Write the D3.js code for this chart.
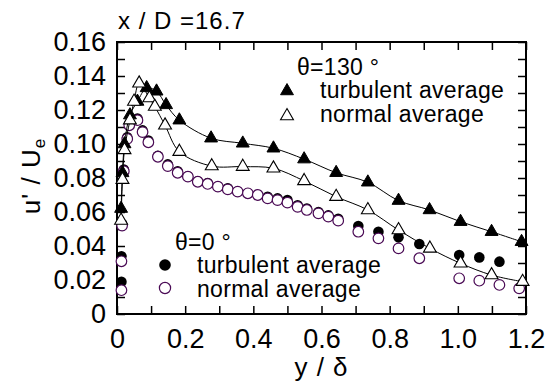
<!DOCTYPE html>
<html><head><meta charset="utf-8">
<script src="https://cdn.jsdelivr.net/npm/d3@7"></script>
<style>
body{margin:0;background:#fff;}
text{font-family:"Liberation Sans",Arial,sans-serif;fill:#000;}
</style></head>
<body><svg id="c" width="555" height="383"></svg>
<script>
// ---- data ----
const title = "x / D =16.7";
const xTicks = [0,0.1,0.2,0.3,0.4,0.5,0.6,0.7,0.8,0.9,1.0,1.1,1.2];
const yTicks = [0,0.01,0.02,0.03,0.04,0.05,0.06,0.07,0.08,0.09,0.10,0.11,0.12,0.13,0.14,0.15,0.16];

// theta = 130 deg, turbulent average (filled triangles)
const t130TurbX = [0.012,0.016,0.022,0.038,0.06,0.087,0.116,0.144,0.183,0.276,0.369,0.459,0.549,0.643,0.736,0.826,0.917,1.008,1.099,1.187];
const t130TurbY = [0.062,0.083,0.100,0.117,0.125,0.133,0.131,0.123,0.114,0.1034,0.1004,0.0975,0.0911,0.0831,0.0775,0.0667,0.0612,0.0543,0.0484,0.0425];
// theta = 130 deg, normal average (open triangles)
const t130NormX = [0.012,0.016,0.022,0.038,0.05,0.065,0.095,0.111,0.141,0.183,0.278,0.369,0.459,0.549,0.643,0.736,0.826,0.918,1.008,1.099,1.19];
const t130NormY = [0.055,0.079,0.0965,0.114,0.125,0.1357,0.127,0.122,0.111,0.0955,0.087,0.0867,0.0857,0.0783,0.069,0.0612,0.0494,0.0386,0.0298,0.0229,0.019];
// theta = 0 deg, normal average (open circles)
const t0NormX = [0.013,0.013,0.015,0.02,0.03,0.036,0.06,0.075,0.092,0.12,0.149,0.178,0.208,0.237,0.266,0.296,0.325,0.354,0.384,0.413,0.442,0.471,0.5,0.53,0.557,0.591,0.62,0.649,0.708,0.767,0.826,0.887,1.004,1.063,1.122,1.18];
const t0NormY = [0.014,0.031,0.052,0.084,0.103,0.111,0.114,0.107,0.101,0.0925,0.087,0.0831,0.0808,0.0778,0.0765,0.0749,0.0733,0.072,0.071,0.070,0.068,0.067,0.0655,0.063,0.0612,0.0592,0.0573,0.0549,0.0484,0.0445,0.0386,0.0328,0.021,0.0196,0.0171,0.0151];
// theta = 0 deg, turbulent average (filled circles)
const t0TurbX = [0.013,0.013,0.015,0.02,0.03,0.036,0.06,0.075,0.092,0.12,0.149,0.178,0.208,0.237,0.266,0.296,0.325,0.354,0.384,0.413,0.442,0.471,0.5,0.53,0.557,0.591,0.62,0.649,0.708,0.767,0.826,0.887,1.004,1.063,1.122];
const t0TurbY = [0.019,0.034,0.053,0.085,0.104,0.112,0.115,0.108,0.102,0.093,0.088,0.084,0.081,0.078,0.077,0.075,0.074,0.072,0.071,0.070,0.069,0.068,0.067,0.064,0.062,0.060,0.058,0.056,0.0518,0.0484,0.0451,0.0412,0.0347,0.0333,0.0308];

const legend130 = ["θ=130 °","turbulent average","normal average"];
const legend0 = ["θ=0 °","turbulent average","normal average"];
const xLabel = "y / δ";

// ---- chart ----
const svg = d3.select("#c");
const L=117,R=526,T=42,B=314;
const x = d3.scaleLinear().domain([0,1.2]).range([L,R]);
const y = d3.scaleLinear().domain([0,0.16]).range([B,T]);
const purple = "#4a0a55";
const zip = (a,b)=>a.map((v,i)=>[v,b[i]]);

const tickLen = 8;
const fmtX = d => d===0 ? "0" : (Math.round(d*10)%2===0 ? d3.format(".1f")(d) : "");
const fmtY = d => d===0 ? "0" : (Math.round(d*100)%2===0 ? d3.format(".2f")(d) : "");

function styleAxis(g, fs){
  g.select(".domain").remove();
  g.selectAll(".tick line").attr("stroke","#000").attr("stroke-width",1.5);
  g.selectAll(".tick text").attr("font-size",fs).attr("font-family","Liberation Sans, Arial, sans-serif").attr("fill","#000");
}
svg.append("g").attr("transform",`translate(0,${B})`)
  .call(d3.axisBottom(x).tickValues(xTicks).tickSizeInner(-tickLen).tickSizeOuter(0).tickPadding(15).tickFormat(fmtX))
  .call(g=>styleAxis(g,27));
svg.append("g").attr("transform",`translate(0,${T})`)
  .call(d3.axisTop(x).tickValues(xTicks).tickSizeInner(-tickLen).tickSizeOuter(0).tickFormat(""))
  .call(g=>styleAxis(g,27));
svg.append("g").attr("transform",`translate(${L},0)`)
  .call(d3.axisLeft(y).tickValues(yTicks).tickSizeInner(-tickLen).tickSizeOuter(0).tickPadding(11).tickFormat(fmtY))
  .call(g=>styleAxis(g,27));
svg.append("g").attr("transform",`translate(${R},0)`)
  .call(d3.axisRight(y).tickValues(yTicks).tickSizeInner(-tickLen).tickSizeOuter(0).tickFormat(""))
  .call(g=>styleAxis(g,27));

svg.append("rect").attr("x",L).attr("y",T).attr("width",R-L).attr("height",B-T)
  .attr("fill","none").attr("stroke","#000").attr("stroke-width",2);

const plot = svg.append("g");
const rC = 5.3;
// filled circles (theta=0 turbulent)
plot.selectAll(".c0t").data(zip(t0TurbX,t0TurbY)).join("circle")
  .attr("cx",d=>x(d[0])).attr("cy",d=>y(d[1])).attr("r",rC).attr("fill","#000");
// open circles (theta=0 normal)
plot.selectAll(".c0n").data(zip(t0NormX,t0NormY)).join("circle")
  .attr("cx",d=>x(d[0])).attr("cy",d=>y(d[1])).attr("r",rC).attr("fill","#fff")
  .attr("stroke",purple).attr("stroke-width",1.2);

const line = d3.line().x(d=>x(d[0])).y(d=>y(d[1])).curve(d3.curveCatmullRom.alpha(0.5));
plot.append("path").attr("d",line(zip(t130TurbX,t130TurbY))).attr("fill","none").attr("stroke","#000").attr("stroke-width",1);
plot.append("path").attr("d",line(zip(t130NormX,t130NormY))).attr("fill","none").attr("stroke","#000").attr("stroke-width",1);

const tri = d3.symbol().type(d3.symbolTriangle).size(72);
plot.selectAll(".tt").data(zip(t130TurbX,t130TurbY)).join("path")
  .attr("d",tri).attr("transform",d=>`translate(${x(d[0])},${y(d[1])})`).attr("fill","#000").attr("stroke","#000").attr("stroke-width",1);
plot.selectAll(".tn").data(zip(t130NormX,t130NormY)).join("path")
  .attr("d",tri).attr("transform",d=>`translate(${x(d[0])},${y(d[1])})`).attr("fill","#fff").attr("stroke","#000").attr("stroke-width",1.1);

// legends
const lfs = 23, ls = 0.3;
function legendText(tx,ty,s){
  svg.append("text").attr("x",tx).attr("y",ty).attr("font-size",lfs).attr("letter-spacing",ls).text(s);
}
legendText(297,75,legend130[0]);
svg.append("path").attr("d",tri).attr("transform","translate(287,91)").attr("fill","#000").attr("stroke","#000");
legendText(320,98,legend130[1]);
svg.append("path").attr("d",tri).attr("transform","translate(287,116)").attr("fill","#fff").attr("stroke","#000").attr("stroke-width",1.1);
legendText(320,122,legend130[2]);

legendText(175,250,legend0[0]);
svg.append("circle").attr("cx",165).attr("cy",265).attr("r",5.8).attr("fill","#000");
legendText(197,273,legend0[1]);
svg.append("circle").attr("cx",165).attr("cy",288).attr("r",5.6).attr("fill","#fff").attr("stroke",purple).attr("stroke-width",1.2);
legendText(197,297,legend0[2]);

// title
svg.append("text").attr("x",118).attr("y",29).attr("font-size",24).attr("letter-spacing",1).text(title);
// axis labels
svg.append("text").attr("x",(L+R)/2).attr("y",376).attr("text-anchor","middle").attr("font-size",26).attr("letter-spacing",1).text(xLabel);
const yl = svg.append("text").attr("transform","translate(40,176) rotate(-90)").attr("text-anchor","middle").attr("font-size",26).attr("letter-spacing",1);
yl.append("tspan").text("u' / U");
yl.append("tspan").attr("font-size",17).attr("dy",5).text("e");
</script></body></html>
